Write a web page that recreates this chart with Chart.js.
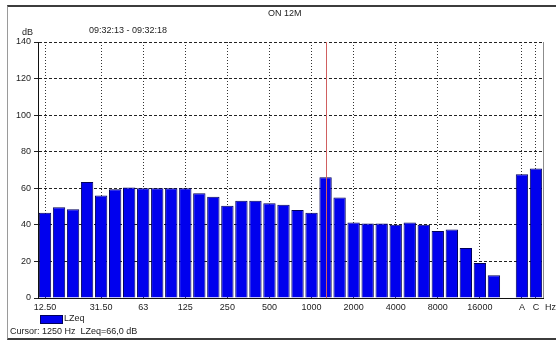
<!DOCTYPE html>
<html>
<head>
<meta charset="utf-8">
<script src="https://cdn.jsdelivr.net/npm/chart.js@4.4.1/dist/chart.umd.min.js"></script>
<style>
  body { margin: 0; background: #fff; font-family: "Liberation Sans", Arial, sans-serif; }
  #wrap { position: relative; width: 556px; height: 340px; overflow: hidden; }
  #marco { position: absolute; left: 7px; top: 5px; width: 560px; height: 331px;
           border-top: 2px solid #3c3c3c; border-left: 1px solid #9a9a9a; border-bottom: 2px solid #3c3c3c; }
  .txt { position: absolute; font-size: 9px; color: #222; white-space: nowrap; line-height: 10px; }
  #leyenda { position: absolute; left: 40px; top: 315px; width: 21px; height: 7px;
             background: #0000ee; border: 1px solid #00005a; }
  canvas { position: absolute; left: 0; top: 0; }
</style>
</head>
<body>
<div id="wrap">
  <div id="marco"></div>
  <canvas id="grafico" width="556" height="340"></canvas>
  <div class="txt" style="left:268px; top:8px;">ON 12M</div>
  <div class="txt" style="left:89px; top:25px;">09:32:13 - 09:32:18</div>
  <div class="txt" style="left:22px; top:27px;">dB</div>
  <div class="txt" style="left:545px; top:302px;">Hz</div>
  <div id="leyenda"></div>
  <div class="txt" style="left:64px; top:313px;">LZeq</div>
  <div class="txt" style="left:10px; top:326px;">Cursor: 1250 Hz&nbsp; LZeq=66,0 dB</div>
</div>

<script>
// bandas de tercio de octava + hueco + ponderaciones A y C
const bandas = ["12,50", "16", "20", "25", "31,50", "40", "50", "63", "80", "100",
  "125", "160", "200", "250", "315", "400", "500", "630", "800", "1000",
  "1250", "1600", "2000", "2500", "3150", "4000", "5000", "6300", "8000", "10000",
  "12500", "16000", "20000", "", "A", "C"];

// LZeq por banda (dB)
const lzeq = [46.6, 49.6, 48.5, 63.5, 56.0, 59.5, 60.4, 60.0, 60.0, 60.0,
  60.0, 57.3, 55.4, 50.5, 53.2, 53.2, 51.8, 51.0, 48.1, 46.6,
  66.0, 54.9, 41.3, 40.8, 40.8, 40.1, 41.3, 40.1, 36.6, 37.5,
  27.4, 19.2, 12.5, null, 67.7, 70.8];

// etiquetas que se ven en el eje x
const marcasX = ["12,50", "31,50", "63", "125", "250", "500", "1000", "2000",
  "4000", "8000", "16000", "A", "C"];

const marcasY = [0, 20, 40, 60, 80, 100, 120, 140];

const bandaCursor = "1250";

// borde derecho del area y linea del cursor
const extras = {
  id: "extras",
  afterDraw(chart) {
    const ctx = chart.ctx;
    const area = chart.chartArea;
    const x = chart.scales.x.getPixelForValue(bandas.indexOf(bandaCursor));
    ctx.save();
    ctx.lineWidth = 1;
    ctx.strokeStyle = "#8c8c8c";
    ctx.beginPath();
    ctx.moveTo(Math.round(area.right) + 0.5, area.top);
    ctx.lineTo(Math.round(area.right) + 0.5, area.bottom);
    ctx.stroke();
    ctx.strokeStyle = "#d06060";
    ctx.beginPath();
    ctx.moveTo(Math.round(x) + 0.5, area.top);
    ctx.lineTo(Math.round(x) + 0.5, area.bottom);
    ctx.stroke();
    ctx.restore();
  }
};

new Chart(document.getElementById("grafico"), {
  type: "bar",
  data: {
    labels: bandas,
    datasets: [{
      label: "LZeq",
      data: lzeq,
      backgroundColor: "#0000ee",
      borderColor: "#00005a",
      borderWidth: 1,
      barPercentage: 0.88,
      categoryPercentage: 1
    }]
  },
  options: {
    responsive: false,
    animation: false,
    devicePixelRatio: 1,
    layout: { padding: { left: 0, top: 42, right: 13, bottom: 30 } },
    plugins: { legend: { display: false }, title: { display: false }, tooltip: { enabled: false } },
    scales: {
      x: {
        afterFit: s => { s.height = 12; },
        // border.dash punteo de las lineas verticales
        border: { color: "#111", width: 1, dash: [1, 2] },
        grid: {
          offset: false,
          drawTicks: false,
          color: c => (c.tick && marcasX.includes(bandas[c.index])) ? "#333" : "rgba(0,0,0,0)"
        },
        ticks: {
          autoSkip: false,
          maxRotation: 0,
          padding: 4,
          color: "#222",
          font: { family: "Liberation Sans", size: 9 },
          callback: (v, i) => marcasX.includes(bandas[i]) ? bandas[i] : ""
        }
      },
      y: {
        min: 0,
        max: 140,
        afterFit: s => { s.width = 38; },
        afterBuildTicks: s => { s.ticks = marcasY.map(v => ({ value: v })); },
        border: { color: "#111", width: 1, dash: [3, 2] },
        grid: {
          color: "#222",
          tickLength: 4,
          tickBorderDash: []
        },
        ticks: {
          padding: 3,
          color: "#222",
          font: { family: "Liberation Sans", size: 9 }
        }
      }
    }
  },
  plugins: [extras]
});
</script>
</body>
</html>
